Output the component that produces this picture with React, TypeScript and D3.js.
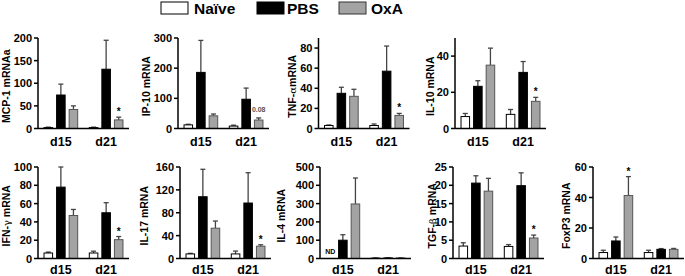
import React from "react";
import * as d3 from "d3";

// ---------- data ----------
const groups = ["d15", "d21"];
const series = ["Naïve", "PBS", "OxA"];

// means [series][group], sem [series][group]
const mcp1Mean = [[2, 2], [74, 131], [42, 19]];
const mcp1Sem = [[1, 1], [24, 64], [8, 6]];
const ip10Mean = [[12, 8], [186, 97], [42, 28]];
const ip10Sem = [[2, 3], [106, 37], [6, 7]];
const tnfMean = [[3, 3], [35, 57], [32, 13]];
const tnfSem = [[0.5, 1.5], [6, 25], [7, 2]];
const il10Mean = [[6.6, 7.8], [23.3, 31], [35, 15]];
const il10Sem = [[1.7, 2.7], [3.1, 6], [9.4, 2.2]];
const ifngMean = [[6, 6], [78, 50], [47, 20.6]];
const ifngSem = [[1, 2], [22, 11], [6.6, 3.4]];
const il17Mean = [[8, 8], [108, 97], [53, 21.5]];
const il17Sem = [[1, 5], [48, 53], [12.5, 2.5]];
const il4Mean = [[NaN, 2], [100, 3], [298, 3]];
const il4Sem = [[0, 1], [30, 1], [142, 1]];
const tgfMean = [[3.4, 3.3], [20.6, 19.9], [18.4, 5.6]];
const tgfSem = [[0.9, 0.5], [2, 3.5], [3.5, 0.8]];
const foxp3Mean = [[3.9, 3.9], [11.5, 6], [41.3, 6]];
const foxp3Sem = [[1.5, 1.5], [2.6, 0.5], [12.4, 0.6]];

const panelTitles = ["MCP-1 mRNAa", "IP-10 mRNA", "TNF-|α|mRNA", "IL-10 mRNA", "IFN-|γ| mRNA", "IL-17 mRNA", "IL-4 mRNA", "TGF-|β| mRNA", "FoxP3 mRNA"];
const yMaxes = [200, 300, 90, 50, 100, 160, 500, 25, 60];
const yTicks = [
  [0, 50, 100, 150, 200],
  [0, 100, 200, 300],
  [0, 20, 40, 60, 80],
  [0, 20, 40],
  [0, 20, 40, 60, 80, 100],
  [0, 40, 80, 120, 160],
  [0, 100, 200, 300, 400, 500],
  [0, 5, 10, 15, 20, 25],
  [0, 20, 40, 60],
];
// annotations: [panelIndex, seriesIndex, groupIndex, text]
const annotations: [number, number, number, string][] = [
  [0, 2, 1, "*"],
  [1, 2, 1, "0.08"],
  [2, 2, 1, "*"],
  [3, 2, 1, "*"],
  [4, 2, 1, "*"],
  [5, 2, 1, "*"],
  [7, 2, 1, "*"],
  [8, 2, 0, "*"],
];
const ndMarks: [number, number, number][] = [[6, 0, 0]];

const means = [mcp1Mean, ip10Mean, tnfMean, il10Mean, ifngMean, il17Mean, il4Mean, tgfMean, foxp3Mean];
const sems = [mcp1Sem, ip10Sem, tnfSem, il10Sem, ifngSem, il17Sem, il4Sem, tgfSem, foxp3Sem];

// ---------- layout ----------
const rows = [
  { base: 128.5, top: 38, label: 146 },
  { base: 258.5, top: 167, label: 274 },
];
const panelRow = [0, 0, 0, 0, 1, 1, 1, 1, 1];
const axisXs = [38, 178, 318.5, 455, 38, 180, 320, 453, 593];
const titleXs = [6, 146, 292, 430, 6, 144, 281, 432, 566];
const panelW = 91;

const fills = ["#ffffff", "#000000", "#a3a3a3"];
const strokes = ["#000000", "#000000", "#555555"];
const FONT = "Liberation Sans";

function yScale(idx: number) {
  const row = rows[panelRow[idx]];
  return d3.scaleLinear().domain([0, yMaxes[idx]]).range([row.base, row.top]);
}

function Title({ x, y, text }: { x: number; y: number; text: string }) {
  const parts = text.split("|");
  return (
    <text
      transform={`translate(${x},${y}) rotate(-90)`}
      textAnchor="middle"
      fontFamily={FONT}
      fontWeight="bold"
      fontSize={10.5}
      fill="#000"
      dy="0.35em"
    >
      {parts.map((p, i) =>
        i % 2 === 1 ? (
          <tspan key={i} fontWeight="normal" fontFamily="DejaVu Serif" fontSize={10}>
            {p}
          </tspan>
        ) : (
          <tspan key={i}>{p}</tspan>
        )
      )}
    </text>
  );
}

function Panel({ idx }: { idx: number }) {
  const row = rows[panelRow[idx]];
  const ax = axisXs[idx];
  const y = yScale(idx);
  const x0 = d3.scaleBand().domain(groups).range([ax, ax + panelW]).paddingInner(0.256).paddingOuter(0.133);
  const x1 = d3.scaleBand().domain(series).range([0, x0.bandwidth()]).paddingInner(0.32);
  const bw = x1.bandwidth();
  const m = means[idx];
  const s = sems[idx];

  const bars: React.ReactNode[] = [];
  series.forEach((ser, si) => {
    groups.forEach((g, gi) => {
      const v = m[si][gi];
      if (!isFinite(v)) return;
      const bx = (x0(g) as number) + (x1(ser) as number);
      const cx = bx + bw / 2;
      const top = y(v + s[si][gi]);
      bars.push(
        <g key={`b${si}-${gi}`}>
          <line x1={cx} x2={cx} y1={y(v)} y2={top} stroke="#444" strokeWidth={1.3} />
          <line x1={cx - 2.5} x2={cx + 2.5} y1={top} y2={top} stroke="#444" strokeWidth={1.3} />
          <rect
            x={bx}
            y={y(v)}
            width={bw}
            height={row.base - y(v)}
            fill={fills[si]}
            stroke={strokes[si]}
            strokeWidth={1}
          />
        </g>
      );
    });
  });

  const notes = annotations
    .filter((a) => a[0] === idx)
    .map((a, k) => {
      const [, si, gi, txt] = a;
      const cx = (x0(groups[gi]) as number) + (x1(series[si]) as number) + bw / 2;
      const top = y(m[si][gi] + s[si][gi]);
      const isStar = txt === "*";
      return (
        <text
          key={`n${k}`}
          x={cx}
          y={isStar ? top - 2 : top - 6}
          textAnchor="middle"
          fontFamily={FONT}
          fontWeight="bold"
          fontSize={isStar ? 10 : 7}
          fill={isStar ? "#000" : "#555"}
        >
          {txt}
        </text>
      );
    });

  const nds = ndMarks
    .filter((a) => a[0] === idx)
    .map((a, k) => {
      const cx = (x0(groups[a[2]]) as number) + (x1(series[a[1]]) as number) + bw / 2;
      return (
        <text
          key={`nd${k}`}
          x={cx}
          y={row.base - 5}
          textAnchor="middle"
          fontFamily={FONT}
          fontWeight="bold"
          fontSize={7}
          fill="#000"
        >
          ND
        </text>
      );
    });

  return (
    <g>
      {bars}
      {notes}
      {nds}
      <line x1={ax} x2={ax} y1={row.base} y2={y(yMaxes[idx])} stroke="#000" strokeWidth={1.5} />
      <line x1={ax} x2={ax + panelW} y1={row.base} y2={row.base} stroke="#000" strokeWidth={1.5} />
      {yTicks[idx].map((t) => (
        <line key={`tm${t}`} x1={ax - 4} x2={ax} y1={y(t)} y2={y(t)} stroke="#000" strokeWidth={1.5} />
      ))}
      {groups.map((g) => (
        <text
          key={`x${g}`}
          x={(x0(g) as number) + x0.bandwidth() / 2}
          y={row.label}
          textAnchor="middle"
          fontFamily={FONT}
          fontWeight="bold"
          fontSize={12.5}
          fill="#000"
        >
          {g}
        </text>
      ))}
      <Title x={titleXs[idx]} y={(row.base + row.top) / 2 + 3} text={panelTitles[idx]} />
    </g>
  );
}

function TickLabels() {
  const out: React.ReactNode[] = [];
  panelTitles.forEach((_, idx) => {
    const y = yScale(idx);
    const ax = axisXs[idx];
    yTicks[idx].forEach((t) => {
      out.push(
        <text
          key={`${idx}-${t}`}
          x={ax - 6}
          y={y(t) + 4}
          textAnchor="end"
          fontFamily={FONT}
          fontWeight="bold"
          fontSize={11}
          fill="#000"
        >
          {t}
        </text>
      );
    });
  });
  return <g>{out}</g>;
}

const legendBoxX = [161, 257, 339];
const legendTextX = [194, 287, 371];

export default function App() {
  return (
    <svg width={685} height={276} style={{ position: "absolute", left: 0, top: 0 }}>
      {series.map((s, i) => (
        <g key={s}>
          <rect x={legendBoxX[i]} y={2} width={27} height={12} fill={fills[i]} stroke={i === 2 ? "#333" : "#000"} strokeWidth={1} />
          <text x={legendTextX[i]} y={14} fontFamily={FONT} fontWeight="bold" fontSize={15.5} fill="#000">
            {s}
          </text>
        </g>
      ))}
      {panelTitles.map((_, i) => (
        <Panel key={i} idx={i} />
      ))}
      <TickLabels />
    </svg>
  );
}
